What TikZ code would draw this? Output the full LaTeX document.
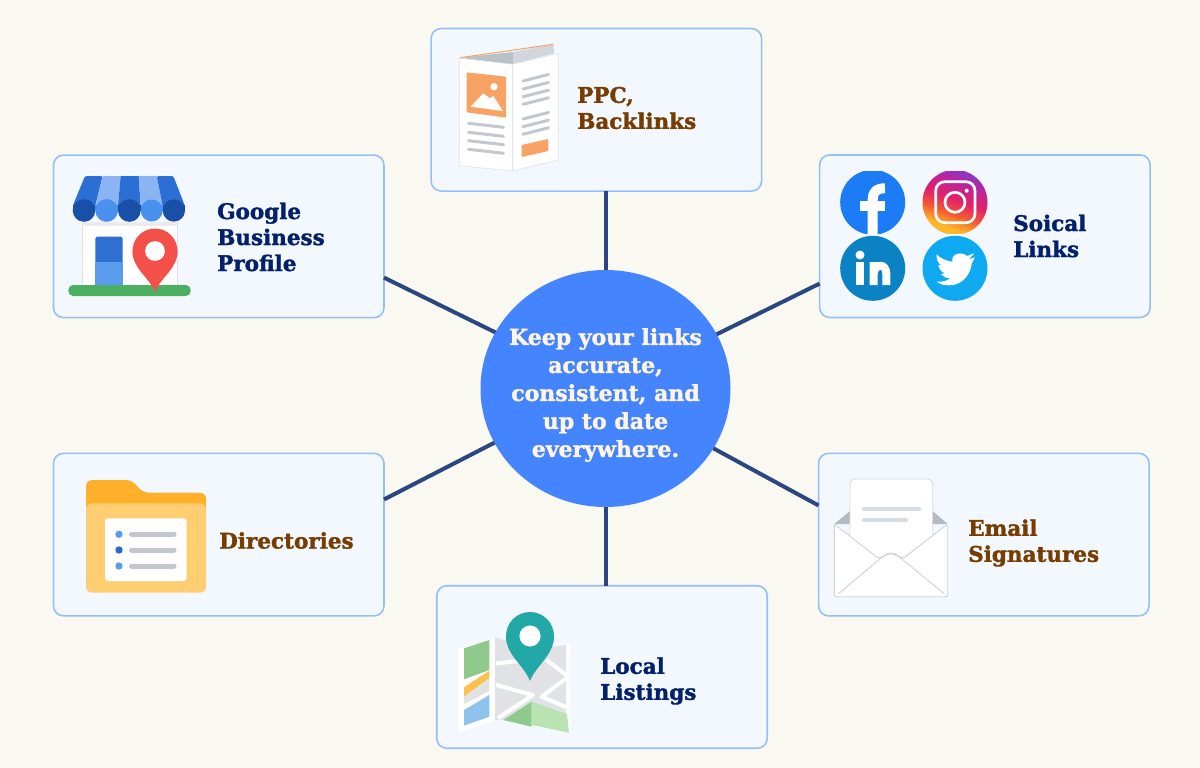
\documentclass[tikz,border=0pt]{standalone}
\usepackage{fontspec}
\usepackage{tikz}
\usetikzlibrary{shapes.geometric}
\newfontfamily\slabfont[BoldFeatures={FakeBold=1.6}]{DejaVu Serif}

\definecolor{pageBg}{HTML}{F9F8F1}
\definecolor{boxFill}{HTML}{F3F8FF}
\definecolor{boxEdge}{HTML}{95C0F5}
\definecolor{spokeCol}{HTML}{2C4680}
\definecolor{hubCol}{HTML}{4584FF}
\definecolor{hubText}{HTML}{FFF5E0}
\definecolor{navyText}{HTML}{03206B}
\definecolor{brownText}{HTML}{763C00}
\definecolor{lineGrey}{HTML}{C2C8CE}
\definecolor{sheetOrange}{HTML}{F8A365}
\definecolor{blueDark}{HTML}{2C6FD4}
\definecolor{blueLight}{HTML}{8AB4F4}
\definecolor{blueDeep}{HTML}{1A4FA8}
\definecolor{blueMid}{HTML}{4A90EE}
\definecolor{doorTop}{HTML}{2F6FD0}
\definecolor{doorLow}{HTML}{5B9BEE}
\definecolor{grassCol}{HTML}{4CAF62}
\definecolor{pinRed}{HTML}{F4504A}
\definecolor{pinTeal}{HTML}{22A8A6}
\definecolor{flapDark}{HTML}{B8C0C8}
\definecolor{flapLight}{HTML}{D0D6DB}
\definecolor{fbBlue}{HTML}{1B7CF5}
\definecolor{inBlue}{HTML}{0A82C4}
\definecolor{twBlue}{HTML}{0EA9F0}
\definecolor{folderBack}{HTML}{FFB02B}
\definecolor{folderFront}{HTML}{FFCE73}
\definecolor{dotDark}{HTML}{2C66C8}
\definecolor{envDark}{HTML}{B4BBC4}
\definecolor{envRule}{HTML}{D6DCE4}
\definecolor{mapGrey}{HTML}{E0E2E5}
\definecolor{mapGreen}{HTML}{8FC98B}
\definecolor{mapPale}{HTML}{B9E3B2}
\definecolor{mapYellow}{HTML}{FDC04F}
\definecolor{mapBlue}{HTML}{8FC3EE}

\pgfdeclareverticalshading{instaShade}{100bp}{
  rgb(0bp)=(1,0.75,0.16);
  rgb(30bp)=(1,0.72,0.16);
  rgb(41bp)=(0.96,0.35,0.2);
  rgb(52bp)=(0.89,0.13,0.41);
  rgb(64bp)=(0.75,0.14,0.59);
  rgb(75bp)=(0.53,0.22,0.78);
  rgb(100bp)=(0.53,0.22,0.78)}

\newcommand{\mappin}[5]{% x, y, radius, tip y, colour
  \fill[#5] (#1,#2) circle[radius=#3];
  \fill[#5] ({#1-#3},#2) .. controls ({#1-#3},{#2+0.8*#3}) and ({#1-0.25*#3},{#4-0.35*(#4-#2)}) .. (#1,#4)
    .. controls ({#1+0.25*#3},{#4-0.35*(#4-#2)}) and ({#1+#3},{#2+0.8*#3}) .. ({#1+#3},#2) -- cycle;
  \fill[white] (#1,#2) circle[radius={0.44*#3}];
}

\tikzset{
  cardbox/.style={draw=boxEdge, line width=1.6pt, fill=boxFill, rounded corners=10pt,
    minimum width=330.5pt, minimum height=162.5pt, inner sep=0pt, outer sep=0pt},
  cardtext/.style={font=\slabfont\fontsize{21.5}{26}\selectfont\bfseries, align=left, anchor=west, inner sep=0pt},
  spoke/.style={draw=spokeCol, line width=4pt},
  greyrule/.style={draw=lineGrey, line width=3pt, line cap=round},
}

\begin{document}
\begin{tikzpicture}[x=1pt, y=-1pt, line join=round]

  % Page
  \useasboundingbox (0,0) rectangle (1200,768);
  \fill[pageBg] (0,0) rectangle (1200,768);

  % Hub and cards
  \node[ellipse, fill=hubCol, minimum width=250pt, minimum height=237pt, inner sep=0pt, outer sep=0pt] (hub) at (605.5,388.5) {};
  \node[cardbox] (gbpBox)    at (218.75,236.4) {};
  \node[cardbox] (ppcBox)    at (596.35,109.8) {};
  \node[cardbox] (socialBox) at (984.9,236.2) {};
  \node[cardbox] (dirBox)    at (218.75,534.6) {};
  \node[cardbox] (emailBox)  at (983.8,534.6) {};
  \node[cardbox] (localBox)  at (602,667) {};

  % Spokes
  \draw[spoke] (hub.north) -- (hub.north |- ppcBox.south);
  \draw[spoke] (hub.south) -- (hub.south |- localBox.north);
  \draw[spoke] (hub.153.3) -- (gbpBox.-14);
  \draw[spoke] (hub.206.9) -- (dirBox.12);
  \draw[spoke] (hub.26.5)  -- (socialBox.196.2);
  \draw[spoke] (hub.-29) -- (emailBox.170);

  % Labels
  \node[font=\slabfont\fontsize{22}{28}\selectfont\bfseries, text=hubText, align=center, inner sep=0pt] (hubLabel) at (605.5,395)
    {Keep your links\\accurate,\\consistent, and\\up to date\\everywhere.};
  \node[cardtext, text=navyText] (gbpLabel) at (217,237) {Google\\Business\\Profile};
  \node[cardtext, text=brownText] (ppcLabel) at (577,108) {PPC,\\Backlinks};
  \node[cardtext, text=navyText] (socialLabel) at (1013,236) {Soical\\Links};
  \node[cardtext, text=brownText] (dirLabel) at (219,540.5) {Directories};
  \node[cardtext, text=brownText] (emailLabel) at (968,543) {Email\\Signatures};
  \node[cardtext, text=navyText] (localLabel) at (600,681) {Local\\Listings};

  % Shop icon
  \fill[white] (81.7,222) rectangle (177.3,285);
  \draw[black!12] (81.7,222) -- (81.7,285) (177.3,222) -- (177.3,285);
  \fill[black!8] (81.7,222) rectangle (177.3,226);
  \fill[blueDark, rounded corners=1.5pt] (85,176) -- (102.7,176) -- (95.3,206) -- (72.7,206) -- cycle;
  \fill[blueLight] (102.7,176) -- (120.7,176) -- (118,206) -- (95.3,206) -- cycle;
  \fill[blueDark] (120.7,176) -- (138.7,176) -- (140.7,206) -- (118,206) -- cycle;
  \fill[blueLight] (138.7,176) -- (156.7,176) -- (162.7,206) -- (140.7,206) -- cycle;
  \fill[blueDark, rounded corners=1.5pt] (156.7,176) -- (173.3,176) -- (185,206) -- (162.7,206) -- cycle;
  \foreach \xa/\xb/\scol in {72.7/95.3/blueDeep, 95.3/118/blueMid, 118/140.7/blueDeep, 140.7/162.7/blueMid, 162.7/185/blueDeep} {
    \fill[\scol] (\xa,205) rectangle (\xb,210.5);
    \fill[\scol] ({(\xa+\xb)/2},210.5) circle[radius={(\xb-\xa)/2}];
  }
  \fill[doorTop, rounded corners=1.5pt] (95.3,236.7) rectangle (122.7,270);
  \fill[doorLow] (95.3,261.7) rectangle (122.7,285);
  \fill[grassCol, rounded corners=5pt] (68.3,285) rectangle (190.7,296);
  \mappin{155}{251}{22.5}{291.7}{pinRed}

  % Leaflet icon
  \fill[flapDark] (460,57.7) -- (513,52) -- (513,64.3) -- cycle;
  \fill[flapLight] (513,52) -- (553.3,44.3) -- (554,53.3) -- (513,64.3) -- cycle;
  \draw[sheetOrange, line width=1pt] (460,57.7) -- (553.3,44.3);
  \filldraw[white, draw=black!12, line width=0.6pt] (459.3,58.3) -- (512.7,64.3) -- (512.7,171) -- (459.3,165.7) -- cycle;
  \filldraw[white, draw=black!12, line width=0.6pt] (512.7,64.3) -- (558.3,53.3) -- (558.3,160) -- (512.7,171) -- cycle;
  \fill[sheetOrange, rounded corners=1pt] (466.7,72.3) -- (506,76.7) -- (506,117.7) -- (466.7,112.3) -- cycle;
  \fill[white] (470.7,106.7) -- (483.3,93.3) -- (490,98.3) -- (493.3,95.7) -- (502.7,111) -- cycle;
  \fill[white] (494,86.7) circle[radius=3.7];
  \foreach \yy in {123.3,132.3,140.7,149.3}
    \draw[greyrule] (468.5,\yy) -- (503.5,{\yy+4});
  \foreach \yy in {81,89,96.7,104.3,119,126.7,134.3}
    \draw[greyrule] (523,\yy) -- (548.5,{\yy-6.5});
  \fill[sheetOrange, rounded corners=1pt] (521.7,145) -- (548.3,139) -- (548.3,151) -- (521.7,157) -- cycle;

  % Social icons
  \begin{scope}
    \clip (830,171.7) rectangle (1000,233.5);
    \fill[fbBlue] (872.7,202.3) circle[radius=32.5];
    \draw[white, line width=10pt] (872.7,234) -- (872.7,200) .. controls (872.7,191) and (877,188.3) .. (885,188.3);
    \draw[white, line width=10pt] (860,206) -- (885,206);
    \shade[shading=instaShade, shading angle=-20] (955,202.3) circle[radius=32.5];
  \end{scope}
  \draw[white, line width=2.7pt, rounded corners=9pt] (935.7,181.7) rectangle (975,222.7);
  \draw[white, line width=2.7pt] (955,202.3) circle[radius=10];
  \fill[white] (966.7,190.7) circle[radius=2];
  \fill[inBlue] (872.7,268.3) circle[radius=32.5];
  \fill[white] (860,255) circle[radius=4.5];
  \fill[white] (856,261.7) rectangle (864,285);
  \draw[white, line width=8pt] (873.7,285) -- (873.7,262) (873.7,274) .. controls (874,264) and (886.3,262) .. (886.3,274) -- (886.3,285);
  \fill[twBlue] (955,268.3) circle[radius=32.5];
  \fill[white] (936.7,281.7) .. controls (942,286) and (948,285.5) .. (953.3,285) .. controls (964,283) and (971,273) .. (971.7,263.3)
    -- (975,257.3) -- (969,259.3) -- (974.3,253.3) -- (967,256) .. controls (963,252) and (951,252) .. (952.3,261.7)
    .. controls (946,261) and (940,258) .. (936.7,254.3) .. controls (936,258) and (937,262) .. (941,265) -- (938.3,265)
    .. controls (939,269) and (941,272) .. (945,273.3) -- (941,274) .. controls (943,277) and (946,278) .. (950,278.3)
    .. controls (947,281) and (942,282) .. (936.7,281.7) -- cycle;

  % Folder icon
  \fill[folderBack, rounded corners=6pt] (86,516.7) -- (86,480) -- (132,480) -- (142.7,492.7) -- (206,492.7) -- (206,516.7) -- cycle;
  \fill[folderFront, rounded corners=6pt] (86,503.3) rectangle (206,592.7);
  \fill[white, rounded corners=3pt] (105,518.3) rectangle (186.7,581);
  \fill[doorLow] (119,534.3) circle[radius=3.7];
  \fill[dotDark] (119,550) circle[radius=3.7];
  \fill[doorLow] (119,566) circle[radius=3.7];
  \foreach \yy in {534.3,550,566}
    \draw[greyrule, line width=5pt] (131.5,\yy) -- (174,\yy);

  % Envelope icon
  \fill[envDark] (834.3,524) -- (850,511) -- (932.7,511) -- (947.7,524) -- cycle;
  \filldraw[white, draw=black!15, line width=0.8pt, rounded corners=5pt] (850,560) -- (850,479) -- (932.7,479) -- (932.7,560);
  \draw[envRule, line width=4pt, line cap=round] (864,509.3) -- (919,509.3);
  \draw[envRule, line width=4pt, line cap=round] (864,520.3) -- (906,520.3);
  \filldraw[white, draw=black!18, line width=0.9pt, rounded corners=2pt] (834.3,524) -- (878.3,558.3) -- (891,553.3) -- (903.3,558.3) -- (947.7,524) -- (947.7,596.7) -- (834.3,596.7) -- cycle;
  \draw[black!18, line width=0.9pt] (838.3,594) -- (883.3,556) .. controls (888,552) and (894,552) .. (898.3,556) -- (944.3,594);

  % Map icon
  \fill[white, rounded corners=1pt] (458.3,648.3) -- (495,637.3) -- (495,720) -- (458.3,732.7) -- cycle;
  \fill[white, rounded corners=1pt] (531.7,648.3) -- (570,643.3) -- (570,733) -- (531.7,726) -- cycle;
  \fill[mapGrey] (495,637.3) -- (531.7,648.3) -- (566,645) -- (566,729) -- (531.7,720) -- (495,720) -- cycle;
  \fill[mapGreen] (464,648.3) -- (489.3,640) -- (489.3,670) -- (464,679.3) -- cycle;
  \fill[mapYellow] (464,687.3) -- (489.3,670.7) -- (489.3,678.3) -- (464,696.7) -- cycle;
  \fill[mapGrey] (464,696.7) -- (489.3,678.3) -- (489.3,691) -- (464,704) -- cycle;
  \fill[mapBlue] (464,710) -- (489.3,695) -- (489.3,716.7) -- (464,725.7) -- cycle;
  \draw[white, line width=4pt] (496,663.5) -- (527,660) (546.7,660) -- (568.3,676.7) -- (541.7,696.7) -- (568.3,708)
    (496,685) -- (533,695) -- (498,718);
  \fill[mapGreen] (503.3,720) -- (531.7,701.7) -- (531.7,726.7) -- cycle;
  \fill[mapPale] (531.7,701.7) -- (567,714) -- (569,732.7) -- (531.7,725) -- cycle;
  \mappin{530}{636}{24}{681}{pinTeal}

\end{tikzpicture}
\end{document}
